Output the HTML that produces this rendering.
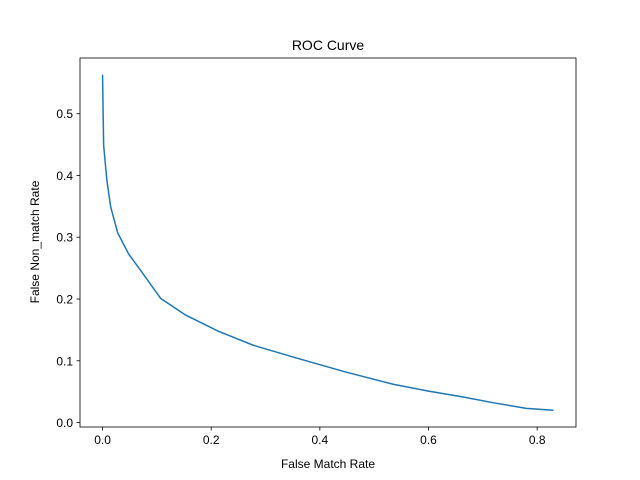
<!DOCTYPE html>
<html><head><meta charset="utf-8"><style>body{margin:0;background:#fff}svg{display:block;font-family:"Liberation Sans","DejaVu Sans",sans-serif}</style></head>
<body>
<svg id="chart" width="640" height="480">
<rect width="640" height="480" fill="#fff"/>
<text x="328" y="50" text-anchor="middle" font-size="14">ROC Curve</text>
<g id="axes"></g>
<text x="328" y="468" text-anchor="middle" font-size="12">False Match Rate</text>
<text transform="translate(39,242) rotate(-90)" text-anchor="middle" font-size="12">False Non_match Rate</text>
</svg>
<script>
const fmr=[0,0.002,0.008,0.015,0.028,0.048,0.072,0.107,0.153,0.213,0.278,0.359,0.447,0.535,0.6,0.66,0.72,0.78,0.83];
const fnmr=[0.563,0.449,0.392,0.349,0.307,0.273,0.244,0.201,0.174,0.148,0.125,0.104,0.082,0.062,0.051,0.042,0.032,0.023,0.020];
const xTicks=[0,0.2,0.4,0.6,0.8];
const yTicks=[0,0.1,0.2,0.3,0.4,0.5];
const L=80,R=576,T=58,B=427;
const xmin=Math.min(...fmr),xmax=Math.max(...fmr),ymin=Math.min(...fnmr),ymax=Math.max(...fnmr);
const xr=xmax-xmin,yr=ymax-ymin;
const X=v=>L+(v-(xmin-0.05*xr))/(xr*1.1)*(R-L);
const Y=v=>B-(v-(ymin-0.05*yr))/(yr*1.1)*(B-T);
const NS='http://www.w3.org/2000/svg';
const g=document.getElementById('axes');
function mk(t,a){const e=document.createElementNS(NS,t);for(const k in a)e.setAttribute(k,a[k]);g.appendChild(e);return e;}
const frame=mk('rect',{x:L,y:T,width:R-L,height:B-T,fill:'none',stroke:'#000','stroke-width':0.8});


xTicks.forEach(v=>{const x=X(v);
const l=mk('line',{x1:x,x2:x,y1:B,y2:B+3.5,stroke:'#000','stroke-width':0.8});


const t=mk('text',{x:x,y:B+17,'text-anchor':'middle','font-size':12});t.textContent=v.toFixed(1);

});
yTicks.forEach(v=>{const y=Y(v);
const l=mk('line',{x1:L-3.5,x2:L,y1:y,y2:y,stroke:'#000','stroke-width':0.8});


const t=mk('text',{x:L-7,y:y+4.5,'text-anchor':'end','font-size':12});t.textContent=v.toFixed(1);

});
const p=mk('polyline',{points:fmr.map((v,i)=>X(v)+','+Y(fnmr[i])).join(' '),fill:'none',stroke:'#1f77b4','stroke-width':1.5});


</script>
</body></html>
